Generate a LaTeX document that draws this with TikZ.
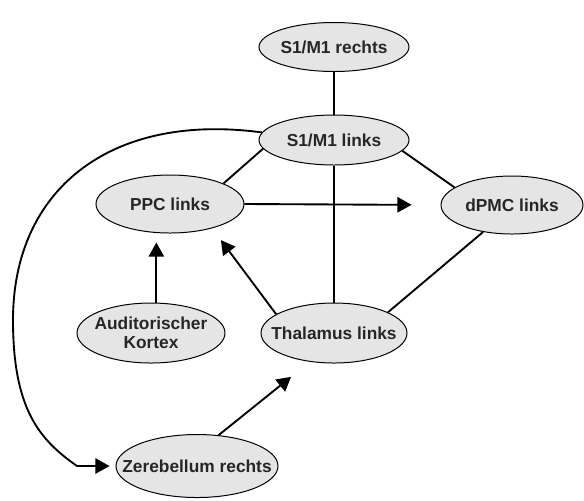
\documentclass[tikz,border=0pt]{standalone}
\usepackage{fontspec}
\setmainfont{Liberation Sans}
\usetikzlibrary{shapes.geometric, arrows.meta, positioning}

\begin{document}
\begin{tikzpicture}[x=0.03cm, y=-0.03cm,
    every node/.style={font=\bfseries\fontsize{14.8}{16}\selectfont, text=black!85},
    area/.style={ellipse, draw=black, line width=0.85pt, fill=black!10, inner xsep=-2cm, inner ysep=-1cm},
    link/.style={line width=1.6pt},
    arr/.style={line width=1.6pt, -{Triangle[length=12pt, width=13pt]}}]
    \useasboundingbox (0,0) rectangle (584,501);
    \node (s1rechts) [area, minimum width=4.5cm, minimum height=1.47cm] at (334,47) {S1/M1 rechts};
    \node (s1links) [area, minimum width=4.5cm, minimum height=1.5cm, node distance=2.79cm, below of=s1rechts] {S1/M1 links};
    \node (thalamus) [area, minimum width=4.38cm, minimum height=1.8cm, node distance=5.79cm, below of=s1links] {Thalamus links};
    \node (ppc) [area, minimum width=4.44cm, minimum height=1.74cm, node distance=1.92cm, below of=s1links, xshift=-4.92cm] {PPC links};
    \node (dpmc) [area, minimum width=4.26cm, minimum height=1.74cm, node distance=1.95cm, below of=s1links, xshift=5.34cm] {dPMC links};
    \node (kortex) [area, minimum width=4.44cm, minimum height=1.8cm, node distance=5.49cm, left of=thalamus, align=center] {Auditorischer\\Kortex};
    \node (zerebellum) [area, minimum width=4.86cm, minimum height=1.89cm, node distance=3.99cm, below of=kortex, xshift=1.38cm] {Zerebellum rechts};

    \draw[link] (s1rechts) -- (s1links);
    \draw[link] (s1links.187) -- (ppc.21);
    \draw[link] (s1links.351) -- (dpmc.163);
    \draw[link] (s1links) -- (thalamus);
    \draw[link] (thalamus.21) -- (dpmc.223);
    \draw[arr, shorten >=0.87cm] (ppc.east) -- (dpmc.west);
    \draw[arr, shorten >=0.27cm] (kortex.80) -- (kortex.80 |- ppc.south);
    \draw[arr, shorten >=0.44cm] (thalamus.162) -- (ppc.330);
    \draw[arr, shorten >=0.72cm] (zerebellum.55) -- (thalamus.230);
    \draw[arr, shorten >=0.18cm] (s1links.174) .. controls (110,112) and (13,190) .. (13,320)
        .. controls (13,410) and (40,440) .. (77,466) -- (zerebellum.west);
\end{tikzpicture}
\end{document}
